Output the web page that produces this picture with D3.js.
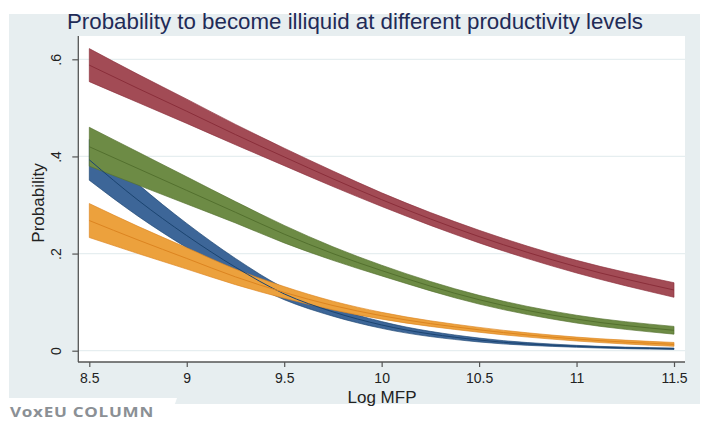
<!DOCTYPE html>
<html>
<head>
<meta charset="utf-8">
<script src="https://cdn.jsdelivr.net/npm/d3@7"></script>
<style>
  body { margin: 0; background: #fff; }
  svg { display: block; font-family: "Liberation Sans", Arial, sans-serif; }
</style>
</head>
<body>
<div id="chart"></div>
<script>
// log MFP grid
const logMFP = [8.5, 8.75, 9, 9.25, 9.5, 9.75, 10, 10.5, 11, 11.5];

// predicted probability (mid) and half-width of the confidence band
const redMid = [0.588, 0.54, 0.493, 0.445, 0.399, 0.354, 0.311, 0.235, 0.173, 0.125];
const redCI = [0.034, 0.029, 0.025, 0.021, 0.018, 0.016, 0.014, 0.013, 0.013, 0.015];
const greenMid = [0.42, 0.375, 0.33, 0.285, 0.24, 0.2, 0.165, 0.105, 0.065, 0.042];
const greenCI = [0.04, 0.034, 0.028, 0.022, 0.018, 0.014, 0.011, 0.009, 0.008, 0.008];
const blueMid = [0.393, 0.31, 0.237, 0.172, 0.117, 0.08, 0.053, 0.022, 0.009, 0.004];
const blueCI = [0.042, 0.033, 0.025, 0.018, 0.012, 0.009, 0.007, 0.004, 0.002, 0.0015];
const orangeMid = [0.268, 0.228, 0.19, 0.152, 0.12, 0.093, 0.072, 0.043, 0.024, 0.013];
const orangeCI = [0.035, 0.028, 0.022, 0.016, 0.012, 0.009, 0.007, 0.005, 0.004, 0.004];

const xTicks = [8.5, 9, 9.5, 10, 10.5, 11, 11.5];
const yTicks = [0, 0.2, 0.4, 0.6];
const yTickLabels = ["0", ".2", ".4", ".6"];

const width = 704, height = 421;

const svg = d3.select("#chart").append("svg")
  .attr("width", width)
  .attr("height", height);

// outer grey panel
svg.append("rect")
  .attr("x", 9).attr("y", 14)
  .attr("width", 691).attr("height", 390)
  .attr("fill", "#e7eef0");

// plot region
const plot = { left: 79, right: 685, top: 36, bottom: 362 };
svg.append("rect")
  .attr("x", plot.left).attr("y", plot.top)
  .attr("width", plot.right - plot.left).attr("height", plot.bottom - plot.top)
  .attr("fill", "#fff");

const x = d3.scaleLinear().domain([8.5, 11.5]).range([89.3, 674]);
const y = d3.scaleLinear().domain([0, 0.6]).range([350.7, 59.3]);

// gridlines
svg.append("g")
  .selectAll("line")
  .data(yTicks)
  .join("line")
  .attr("x1", plot.left).attr("x2", plot.right)
  .attr("y1", (d) => y(d)).attr("y2", (d) => y(d))
  .attr("stroke", "#e6eef0")
  .attr("stroke-width", 1.2);

// series (draw order: blue, orange, green, red)
const series = [
  { mid: blueMid, ci: blueCI, fill: "#3d6698", line: "#1b4470" },
  { mid: orangeMid, ci: orangeCI, fill: "#eca13d", line: "#dc8420" },
  { mid: greenMid, ci: greenCI, fill: "#6d8b45", line: "#53702e" },
  { mid: redMid, ci: redCI, fill: "#a24b55", line: "#8a2e3a" },
];

const area = d3.area()
  .x((d) => x(d.x))
  .y0((d) => y(d.lo))
  .y1((d) => y(d.hi))
  .curve(d3.curveMonotoneX);

const line = d3.line()
  .x((d) => x(d.x))
  .y((d) => y(d.mid))
  .curve(d3.curveMonotoneX);

const rows = series.map((s) =>
  logMFP.map((v, i) => ({ x: v, mid: s.mid[i], lo: s.mid[i] - s.ci[i], hi: s.mid[i] + s.ci[i] }))
);

// bands with their outline
const gArea = svg.append("g");
series.forEach((s, k) => {
  gArea.append("path")
    .datum(rows[k])
    .attr("d", area)
    .attr("fill", s.fill)
    .attr("stroke", s.line)
    .attr("stroke-width", 0.8)
    .attr("stroke-opacity", 0.8);
});

// fitted lines on top
svg.append("g")
  .attr("fill", "none")
  .selectAll("path")
  .data(series)
  .join("path")
  .attr("d", (s, k) => line(rows[k]))
  .attr("stroke", (s) => s.line)
  .attr("stroke-width", 1);

// axes
const xAxis = svg.append("g")
  .attr("transform", `translate(0,${plot.bottom})`)
  .call(d3.axisBottom(x).tickValues(xTicks).tickSize(5).tickPadding(6)
    .tickFormat((d) => String(d)));
xAxis.select(".domain").attr("d", `M${plot.left - 1},0H${plot.right}`).attr("stroke", "#555").attr("stroke-width", 1.3);
xAxis.selectAll(".tick line").attr("stroke", "#555").attr("stroke-width", 1.2);
xAxis.selectAll("text").attr("font-size", 14).attr("fill", "#222")
  .attr("font-family", "'Liberation Sans', Arial, sans-serif");

const yAxis = svg.append("g")
  .attr("transform", `translate(${plot.left - 0.7},0)`)
  .call(d3.axisLeft(y).tickValues(yTicks).tickSize(6).tickFormat((d, i) => yTickLabels[i]));
yAxis.select(".domain").attr("d", `M0,${plot.top}V${plot.bottom}`).attr("stroke", "#555").attr("stroke-width", 1.3);
yAxis.selectAll(".tick line").attr("stroke", "#555").attr("stroke-width", 1.2);
yAxis.selectAll("text")
  .attr("x", null).attr("dy", null)
  .attr("text-anchor", "middle")
  .attr("dominant-baseline", "central")
  .attr("transform", "translate(-22,0) rotate(-90)")
  .attr("font-size", 14).attr("fill", "#222")
  .attr("font-family", "'Liberation Sans', Arial, sans-serif");

// titles
svg.append("text")
  .attr("x", 355).attr("y", 29)
  .attr("text-anchor", "middle")
  .attr("font-size", 21.5)
  .attr("textLength", 576)
  .attr("lengthAdjust", "spacingAndGlyphs")
  .attr("fill", "#1f2b57")
  .text("Probability to become illiquid at different productivity levels");

svg.append("text")
  .attr("x", 382).attr("y", 403)
  .attr("text-anchor", "middle")
  .attr("font-size", 17)
  .attr("fill", "#222")
  .text("Log MFP");

svg.append("text")
  .attr("transform", "translate(44,203) rotate(-90)")
  .attr("text-anchor", "middle")
  .attr("font-size", 17)
  .attr("fill", "#222")
  .text("Probability");

// VoxEU tab
svg.append("path")
  .attr("d", "M0,398H177L169,421H0Z")
  .attr("fill", "#fff");
svg.append("text")
  .attr("x", 10).attr("y", 416.5)
  .attr("font-family", "'Open Sans', 'Noto Sans', sans-serif")
  .attr("font-weight", 700)
  .attr("font-size", 14)
  .attr("letter-spacing", 0.6)
  .attr("textLength", 144)
  .attr("lengthAdjust", "spacingAndGlyphs")
  .attr("fill", "#8b9095")
  .text("VoxEU COLUMN");
</script>
</body>
</html>
